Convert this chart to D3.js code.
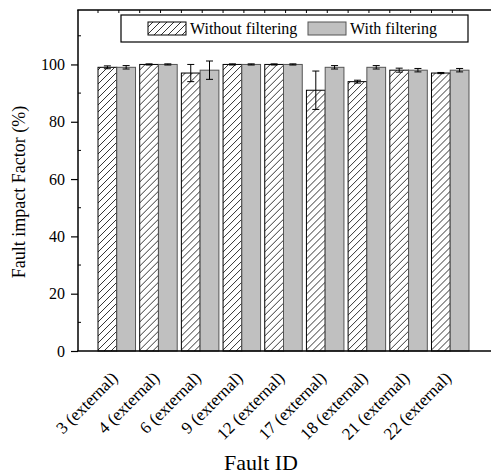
<!DOCTYPE html>
<html>
<head>
<meta charset="utf-8">
<script src="https://cdn.jsdelivr.net/npm/d3@7"></script>
<style>
  body { margin: 0; background: #fff; }
  text { font-family: "Liberation Serif", "Times New Roman", serif; fill: #000; }
</style>
</head>
<body>
<svg id="chart" width="491" height="475"></svg>
<script>
// data
const faultIds = ['3 (external)', '4 (external)', '6 (external)', '9 (external)', '12 (external)',
                  '17 (external)', '18 (external)', '21 (external)', '22 (external)']
const withoutFiltering = [99, 100, 97, 100, 100, 91, 94, 98, 97]
const withoutErr = [0.5, 0.2, 3, 0.2, 0.2, 6.7, 0.5, 0.7, 0.2]
const withFiltering = [99, 100, 98, 100, 100, 99, 99, 98, 98]
const withErr = [0.6, 0.2, 3.2, 0.2, 0.2, 0.6, 0.6, 0.6, 0.6]
const yTicks = [0, 20, 40, 60, 80, 100]
const yMinor = [10, 30, 50, 70, 90, 110]
const seriesNames = ['Without filtering', 'With filtering']

const svg = d3.select('#chart')
const plotLeft = 78, plotTop = 10, plotBottom = 351, plotRight = 493

const x = d3.scaleBand()
  .domain(faultIds)
  .range([plotLeft, 489])
  .paddingInner(0.1)
  .paddingOuter(0.48)

const xi = d3.scaleBand()
  .domain(seriesNames)
  .range([0, x.bandwidth()])

const y = d3.scaleLinear()
  .domain([0, 119])
  .range([plotBottom, plotTop])

// hatch pattern
const defs = svg.append('defs')
const pat = defs.append('pattern')
  .attr('id', 'hatch')
  .attr('patternUnits', 'userSpaceOnUse')
  .attr('width', 7)
  .attr('height', 7)
pat.append('rect').attr('width', 7).attr('height', 7).attr('fill', '#fff')
pat.append('path')
  .attr('d', 'M-1,1 l2,-2 M0,7 l7,-7 M6,8 l2,-2')
  .attr('stroke', '#000')
  .attr('stroke-width', 0.8)

const rows = faultIds.map((id, i) => ({
  id: id,
  vals: [
    { s: seriesNames[0], v: withoutFiltering[i], e: withoutErr[i] },
    { s: seriesNames[1], v: withFiltering[i], e: withErr[i] }
  ]
}))

const groups = svg.append('g').selectAll('g')
  .data(rows)
  .enter()
  .append('g')
  .attr('transform', d => `translate(${x(d.id)},0)`)

groups.selectAll('rect')
  .data(d => d.vals)
  .enter()
  .append('rect')
  .attr('x', d => xi(d.s))
  .attr('y', d => y(d.v))
  .attr('width', xi.bandwidth())
  .attr('height', d => y(0) - y(d.v))
  .attr('fill', d => d.s === seriesNames[0] ? 'url(#hatch)' : '#c0c0c0')
  .attr('stroke', d => d.s === seriesNames[0] ? '#000' : '#555')
  .attr('stroke-width', 1)

// error bars
const err = groups.selectAll('g.err')
  .data(d => d.vals)
  .enter()
  .append('g')
  .attr('class', 'err')
  .attr('stroke', '#000')
  .attr('stroke-width', 1)
err.append('line')
  .attr('x1', d => xi(d.s) + xi.bandwidth() / 2)
  .attr('x2', d => xi(d.s) + xi.bandwidth() / 2)
  .attr('y1', d => y(d.v - d.e))
  .attr('y2', d => y(d.v + d.e))
err.append('line')
  .attr('x1', d => xi(d.s) + xi.bandwidth() / 2 - 3.5)
  .attr('x2', d => xi(d.s) + xi.bandwidth() / 2 + 3.5)
  .attr('y1', d => y(d.v + d.e))
  .attr('y2', d => y(d.v + d.e))
err.append('line')
  .attr('x1', d => xi(d.s) + xi.bandwidth() / 2 - 3.5)
  .attr('x2', d => xi(d.s) + xi.bandwidth() / 2 + 3.5)
  .attr('y1', d => y(d.v - d.e))
  .attr('y2', d => y(d.v - d.e))

// y axis
const yAxis = d3.axisLeft(y)
  .tickValues(yTicks)
  .tickSize(7)
  .tickPadding(6)
const yG = svg.append('g')
  .attr('transform', `translate(${plotLeft},0)`)
  .call(yAxis)
yG.select('.domain').remove()
yG.selectAll('line').attr('stroke', '#000').attr('stroke-width', 1.2)
yG.selectAll('text')
  .attr('font-size', '16px')
  .style('font-family', '"Liberation Serif", serif')

svg.append('g').selectAll('line')
  .data(yMinor)
  .enter()
  .append('line')
  .attr('x1', plotLeft)
  .attr('x2', plotLeft + 3)
  .attr('y1', d => y(d))
  .attr('y2', d => y(d))
  .attr('stroke', '#000')

// frame lines
svg.append('line')
  .attr('x1', plotLeft).attr('x2', plotLeft)
  .attr('y1', plotTop).attr('y2', plotBottom)
  .attr('stroke', '#000').attr('stroke-width', 1.5)
svg.append('line')
  .attr('x1', plotLeft - 0.75).attr('x2', plotRight)
  .attr('y1', plotBottom).attr('y2', plotBottom)
  .attr('stroke', '#000').attr('stroke-width', 1.5)
svg.append('line')
  .attr('x1', plotLeft - 0.75).attr('x2', plotRight)
  .attr('y1', plotTop).attr('y2', plotTop)
  .attr('stroke', '#000').attr('stroke-width', 1.5)

// small ticks along the top
const topTicks = []
faultIds.forEach(id => { topTicks.push(x(id)); topTicks.push(x(id) + x.step() / 2) })
svg.append('g').selectAll('line')
  .data(topTicks)
  .enter()
  .append('line')
  .attr('x1', d => d).attr('x2', d => d)
  .attr('y1', plotTop).attr('y2', plotTop + 3)
  .attr('stroke', '#000')

// x labels, rotated
svg.append('g').selectAll('text')
  .data(faultIds)
  .enter()
  .append('text')
  .attr('transform', d => `translate(${x(d) + x.bandwidth() / 2 + 2},${plotBottom + 28}) rotate(-45)`)
  .attr('text-anchor', 'end')
  .attr('font-size', '17px')
  .text(d => d)

// axis titles
svg.append('text')
  .attr('x', 261)
  .attr('y', 470)
  .attr('text-anchor', 'middle')
  .attr('font-size', '22px')
  .text('Fault ID')

svg.append('text')
  .attr('transform', 'translate(25,192) rotate(-90)')
  .attr('text-anchor', 'middle')
  .attr('font-size', '18px')
  .text('Fault impact Factor (%)')

// legend
const leg = svg.append('g')
leg.append('rect')
  .attr('x', 121).attr('y', 15)
  .attr('width', 347).attr('height', 27)
  .attr('fill', '#fff').attr('stroke', '#000').attr('stroke-width', 1.2)
const legX = [148, 308]
seriesNames.forEach((s, i) => {
  leg.append('rect')
    .attr('x', legX[i]).attr('y', 22)
    .attr('width', 38).attr('height', 13)
    .attr('fill', i === 0 ? 'url(#hatch)' : '#c0c0c0')
    .attr('stroke', i === 0 ? '#000' : '#555')
  leg.append('text')
    .attr('x', legX[i] + 42).attr('y', 34)
    .attr('font-size', '16px')
    .text(s)
})
</script>
</body>
</html>
